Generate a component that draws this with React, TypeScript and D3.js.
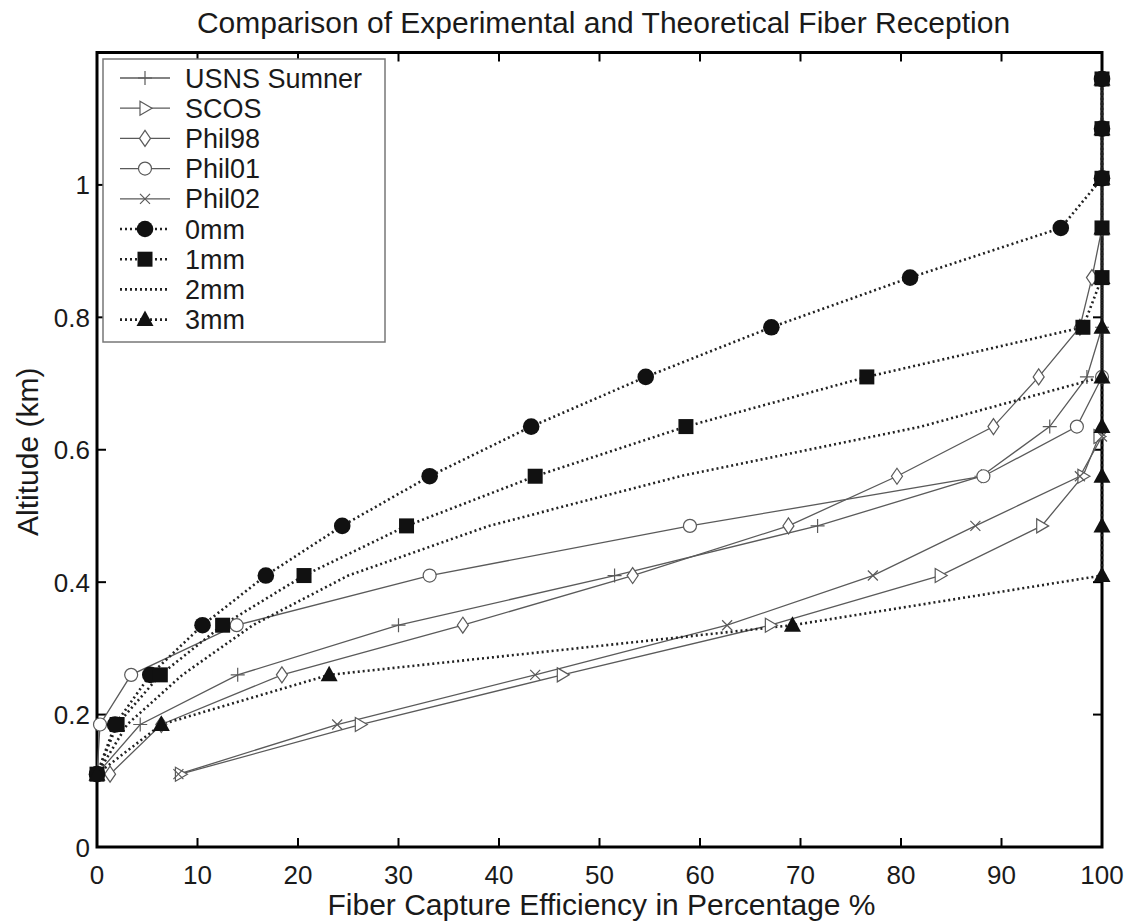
import React from "react";
import * as d3 from "d3";

const X_TICKS = [0, 10, 20, 30, 40, 50, 60, 70, 80, 90, 100];
const Y_TICKS = [0, 0.2, 0.4, 0.6, 0.8, 1];
const Y_TICK_LABELS = ["0", "0.2", "0.4", "0.6", "0.8", "1"];

// Experimental series
const USNS_X = [0, 4.3, 14, 30, 51.5, 71.7, 88, 94.8, 98.5, 100];
const USNS_Y = [0.11, 0.185, 0.26, 0.335, 0.41, 0.485, 0.56, 0.635, 0.71, 0.785];
const SCOS_X = [8.3, 26.2, 46.3, 67, 83.9, 94, 98.1, 99.7];
const SCOS_Y = [0.11, 0.185, 0.26, 0.335, 0.41, 0.485, 0.56, 0.62];
const PHIL98_X = [1.3, 6.4, 18.4, 36.4, 53.3, 68.8, 79.6, 89.2, 93.7, 97.8, 99, 100];
const PHIL98_Y = [0.11, 0.185, 0.26, 0.335, 0.41, 0.485, 0.56, 0.635, 0.71, 0.785, 0.86, 0.935];
const PHIL01_X = [0, 0.3, 3.4, 13.9, 33.1, 59, 88.2, 97.5, 100];
const PHIL01_Y = [0.11, 0.185, 0.26, 0.335, 0.41, 0.485, 0.56, 0.635, 0.71];
const PHIL02_X = [8.1, 23.9, 43.6, 62.7, 77.2, 87.4, 97.8, 100];
const PHIL02_Y = [0.11, 0.185, 0.26, 0.335, 0.41, 0.485, 0.56, 0.62];

// Theoretical series
const THEORY_ALT = [0.11, 0.185, 0.26, 0.335, 0.41, 0.485, 0.56, 0.635, 0.71, 0.785, 0.86, 0.935, 1.01, 1.085, 1.16];
const MM0_X = [0, 1.8, 5.3, 10.5, 16.8, 24.4, 33.1, 43.2, 54.6, 67.1, 80.9, 95.9, 100, 100, 100];
const MM1_X = [0, 2.0, 6.3, 12.5, 20.6, 30.8, 43.6, 58.6, 76.6, 98.1, 100, 100, 100, 100, 100];
const MM2_X = [0, 3.0, 8.5, 15.5, 25, 39, 58, 82, 100, 100, 100, 100, 100, 100, 100];
const MM3_X = [0, 6.4, 23.1, 69.2, 100, 100, 100, 100, 100, 100, 100, 100, 100, 100, 100];

const SERIES_NAMES = ["USNS Sumner", "SCOS", "Phil98", "Phil01", "Phil02", "0mm", "1mm", "2mm", "3mm"];

type Series = { name: string; xs: number[]; ys: number[]; marker: string; dotted: boolean };

const SERIES: Series[] = [
  { name: SERIES_NAMES[0], xs: USNS_X, ys: USNS_Y, marker: "plus", dotted: false },
  { name: SERIES_NAMES[1], xs: SCOS_X, ys: SCOS_Y, marker: "tri-right", dotted: false },
  { name: SERIES_NAMES[2], xs: PHIL98_X, ys: PHIL98_Y, marker: "diamond", dotted: false },
  { name: SERIES_NAMES[3], xs: PHIL01_X, ys: PHIL01_Y, marker: "circle", dotted: false },
  { name: SERIES_NAMES[4], xs: PHIL02_X, ys: PHIL02_Y, marker: "x", dotted: false },
  { name: SERIES_NAMES[5], xs: MM0_X, ys: THEORY_ALT, marker: "fcircle", dotted: true },
  { name: SERIES_NAMES[6], xs: MM1_X, ys: THEORY_ALT, marker: "fsquare", dotted: true },
  { name: SERIES_NAMES[7], xs: MM2_X, ys: THEORY_ALT, marker: "none", dotted: true },
  { name: SERIES_NAMES[8], xs: MM3_X, ys: THEORY_ALT, marker: "ftri", dotted: true },
];

const W = 1139;
const H = 921;
const M = { left: 97, right: 1102, top: 52.5, bottom: 847 };
const FONT = "'Liberation Sans', Arial, Helvetica, sans-serif";
const GRAY = "#5a5a5a";
const DARK = "#111";
const TEXT = "#1a1a1a";

function Marker({ type, x, y }: { type: string; x: number; y: number }) {
  const t = `translate(${x},${y})`;
  const thin = { fill: "none", stroke: GRAY, strokeWidth: 1.2 };
  switch (type) {
    case "plus":
      return <path transform={t} d="M-7,0H7M0,-7V7" {...thin} />;
    case "tri-right":
      return <path transform={t} d="M-5,-7L7,0L-5,7Z" {...thin} fill="#fff" />;
    case "diamond":
      return <path transform={t} d="M0,-8L5.5,0L0,8L-5.5,0Z" {...thin} fill="#fff" />;
    case "circle":
      return <circle cx={x} cy={y} r={6.5} {...thin} fill="#fff" />;
    case "x":
      return <path transform={t} d="M-5,-5L5,5M-5,5L5,-5" {...thin} />;
    case "fcircle":
      return <circle cx={x} cy={y} r={8.3} fill={DARK} />;
    case "fsquare":
      return <rect x={x - 7.5} y={y - 7.5} width={15} height={15} fill={DARK} />;
    case "ftri":
      return <path transform={t} d="M0,-9L8.5,6.5L-8.5,6.5Z" fill={DARK} />;
    default:
      return null;
  }
}

export default function App() {
  const x = d3.scaleLinear().domain([0, 100]).range([M.left, M.right]);
  const y = d3.scaleLinear().domain([0, 1.2]).range([M.bottom, M.top]);

  const line = d3
    .line<[number, number]>()
    .x((d) => x(d[0]))
    .y((d) => y(d[1]));

  const tickLen = 9;

  const legendX = 103;
  const legendY = 59;
  const legendW = 282;
  const rowH = 30.2;
  const legendH = 283;

  return (
    <svg
      width={W}
      height={H}
      viewBox={`0 0 ${W} ${H}`}
      style={{ position: "absolute", left: 0, top: 0, background: "#fff" }}
      fontFamily={FONT}
    >
      <rect x={0} y={0} width={W} height={H} fill="#fff" />
      {/* Title */}
      <text x={(M.left + M.right) / 2 + 4} y={33} textAnchor="middle" fontSize={30} fill={TEXT}>
        Comparison of Experimental and Theoretical Fiber Reception
      </text>

      {/* Ticks */}
      {X_TICKS.map((v) => (
        <g key={"xt" + v}>
          <line x1={x(v)} x2={x(v)} y1={M.bottom} y2={M.bottom - tickLen} stroke="#000" strokeWidth={2} />
          <line x1={x(v)} x2={x(v)} y1={M.top} y2={M.top + tickLen} stroke="#000" strokeWidth={2} />
          <text x={x(v)} y={884} textAnchor="middle" fontSize={26} fill={TEXT}>
            {v}
          </text>
        </g>
      ))}
      {Y_TICKS.map((v, i) => (
        <g key={"yt" + v}>
          <line x1={M.left} x2={M.left + tickLen} y1={y(v)} y2={y(v)} stroke="#000" strokeWidth={2} />
          <line x1={M.right} x2={M.right - tickLen} y1={y(v)} y2={y(v)} stroke="#000" strokeWidth={2} />
          <text x={90} y={y(v) + 9.5} textAnchor="end" fontSize={26} fill={TEXT}>
            {Y_TICK_LABELS[i]}
          </text>
        </g>
      ))}

      {/* Axis labels */}
      <text x={(M.left + M.right) / 2 + 2} y={915} textAnchor="middle" fontSize={30} fill={TEXT}>
        Fiber Capture Efficiency in Percentage %
      </text>
      <text
        transform={`translate(38,${(M.top + M.bottom) / 2 + 2}) rotate(-90)`}
        textAnchor="middle"
        fontSize={30}
        fill={TEXT}
      >
        Altitude (km)
      </text>

      {/* Box */}
      <rect
        x={M.left}
        y={M.top}
        width={M.right - M.left}
        height={M.bottom - M.top}
        fill="none"
        stroke="#000"
        strokeWidth={3}
      />

      {/* Lines */}
      {SERIES.map((s) => {
        const pts = s.xs.map((v, i) => [v, s.ys[i]] as [number, number]);
        return (
          <path
            key={"l" + s.name}
            d={line(pts) || ""}
            fill="none"
            stroke={s.dotted ? "#222" : GRAY}
            strokeWidth={s.dotted ? 2.6 : 1.3}
            strokeDasharray={s.dotted ? "2,3" : undefined}
          />
        );
      })}
      {/* Markers */}
      {SERIES.map((s) => (
        <g key={"m" + s.name}>
          {s.xs.map((v, i) => (
            <Marker key={i} type={s.marker} x={x(v)} y={y(s.ys[i])} />
          ))}
        </g>
      ))}

      {/* Legend */}
      <rect x={legendX} y={legendY} width={legendW} height={legendH} fill="#fff" stroke="#777" strokeWidth={1.5} />
      {SERIES.map((s, i) => {
        const cy = 78 + i * rowH;
        return (
          <g key={"lg" + s.name}>
            <line
              x1={120}
              x2={170}
              y1={cy}
              y2={cy}
              stroke={s.dotted ? "#222" : GRAY}
              strokeWidth={s.dotted ? 2.6 : 1.3}
              strokeDasharray={s.dotted ? "2,3" : undefined}
            />
            <Marker type={s.marker} x={145} y={cy} />
            <text x={185} y={cy + 9.5} fontSize={27} fill={TEXT}>
              {s.name}
            </text>
          </g>
        );
      })}
    </svg>
  );
}
